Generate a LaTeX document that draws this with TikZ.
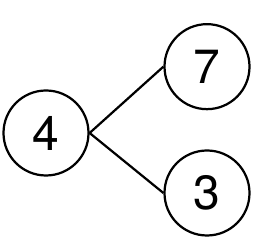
\documentclass[tikz,border=0pt]{standalone}
\usepackage{fontspec}
\setmainfont{TeX Gyre Heros}
\usetikzlibrary{positioning}

\begin{document}
\begin{tikzpicture}[
        every node/.style={font=\fontsize{41}{41}\selectfont},
        bubble/.style={circle, draw=black, line width=1.9pt, minimum size=2.55cm,
                       inner sep=0pt},
        link/.style={line width=1.9pt, black}
    ]
        \useasboundingbox (0,0) rectangle (7.92,7.23);
        \node[bubble] (whole) at (1.38,3.24) {4};
        \node[bubble] (top)   at (6.21,5.23) {7};
        \node[bubble] (bot)   at (6.21,1.44) {3};
        \draw[link] (whole.east) -- (top.west);
        \draw[link] (whole.east) -- (bot.west);
    \end{tikzpicture}
\end{document}
